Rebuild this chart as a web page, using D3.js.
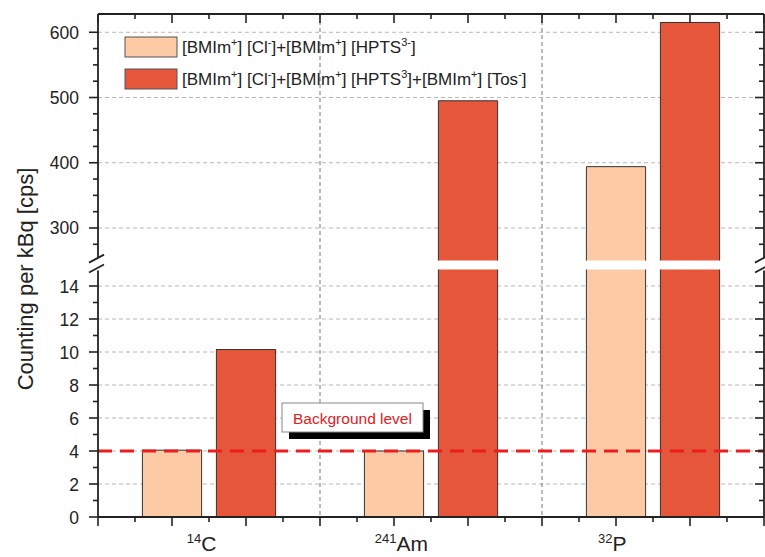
<!DOCTYPE html>
<html>
<head>
<meta charset="utf-8">
<script src="https://cdn.jsdelivr.net/npm/d3@7"></script>
<style>
  body { margin: 0; background: #fff; }
  svg { display: block; font-family: Arial, "Liberation Sans", sans-serif; }
</style>
</head>
<body>
<svg id="chart" width="765" height="557"></svg>
<script>
// isotopes on the x axis (mass number + symbol)
var isotopeMass   = ["14", "241", "32"];
var isotopeSymbol = ["C", "Am", "P"];
// where each category label sits, in x-axis units
var labelPos = [1.4, 4.1, 6.95];

// counting per kBq [cps]
var seriesNames = [
    ["[BMIm", "+", "] [Cl", "-", "]+[BMIm", "+", "] [HPTS", "3-", "]"],
    ["[BMIm", "+", "] [Cl", "-", "]+[BMIm", "+", "] [HPTS", "3", "]+[BMIm", "+", "] [Tos", "-", "]"]
];
var seriesLight = [4.05, 4.0, 394];
var seriesDark  = [10.15, 495, 615];
var colors = ["#fdcaa6", "#e5563a"];

var backgroundLevel = 4;

// broken y axis: lower and upper segment
var lowDomain  = [0, 15];
var highDomain = [250, 628];
var lowMajor  = d3.range(0, 15, 2);
var lowMinor  = d3.range(1, 15, 2);
var highMajor = d3.range(300, 601, 100);
var highMinor = d3.range(275, 601, 25).filter(function(v) { return v % 100 !== 0; });

var L = 98, R = 764, T = 14, B = 517;
var svg = d3.select("#chart");

var x = d3.scaleLinear().domain([0, 9]).range([L, R]);
var yLow  = d3.scaleLinear().domain(lowDomain).range([B, 269.5]);
var yHigh = d3.scaleLinear().domain(highDomain).range([260.6, T]);

// grid
var grid = svg.append("g").attr("stroke", "#b8b8b8").attr("stroke-dasharray", "4,3").attr("stroke-width", 1);
lowMajor.filter(function(v) { return v > 0; }).forEach(function(v) {
    grid.append("line").attr("x1", L).attr("x2", R).attr("y1", yLow(v)).attr("y2", yLow(v));
});
highMajor.forEach(function(v) {
    grid.append("line").attr("x1", L).attr("x2", R).attr("y1", yHigh(v)).attr("y2", yHigh(v));
});
[3, 6].forEach(function(v) {
    grid.append("line").attr("x1", x(v)).attr("x2", x(v)).attr("y1", T).attr("y2", B)
        .attr("stroke", "#777");
});

// bars
var bars = [];
seriesLight.forEach(function(v, i) { bars.push({ x: 3 * i + 1, v: v, c: colors[0] }); });
seriesDark.forEach(function(v, i) { bars.push({ x: 3 * i + 2, v: v, c: colors[1] }); });

var bw = x(0.8) - x(0);
var gBars = svg.append("g").attr("stroke", "#333").attr("stroke-width", 1);
bars.forEach(function(d) {
    var x0 = x(d.x) - bw / 2;
    if (d.v <= lowDomain[1]) {
        gBars.append("rect").attr("x", x0).attr("width", bw)
            .attr("y", yLow(d.v)).attr("height", yLow(0) - yLow(d.v)).attr("fill", d.c);
    } else {
        gBars.append("path").attr("fill", d.c)
            .attr("d", "M" + x0 + "," + yLow(lowDomain[1]) + "V" + yLow(0) + "H" + (x0 + bw) + "V" + yLow(lowDomain[1]));
        gBars.append("path").attr("fill", d.c)
            .attr("d", "M" + x0 + "," + yHigh(highDomain[0]) + "V" + yHigh(d.v) + "H" + (x0 + bw) + "V" + yHigh(highDomain[0]));
    }
});

// background level
svg.append("line").attr("x1", L).attr("x2", R)
    .attr("y1", yLow(backgroundLevel)).attr("y2", yLow(backgroundLevel))
    .attr("stroke", "#ee1c1c").attr("stroke-width", 3).attr("stroke-dasharray", "14,8");

svg.append("rect").attr("x", 289).attr("y", 410).attr("width", 141).attr("height", 29).attr("fill", "#000");
svg.append("rect").attr("x", 282).attr("y", 403).attr("width", 141).attr("height", 29)
    .attr("fill", "#fff").attr("stroke", "#888").attr("stroke-width", 1);
svg.append("text").attr("x", 352.5).attr("y", 423.5).attr("text-anchor", "middle")
    .attr("font-size", 15.5).attr("fill", "#e0201e").text("Background level");

// axes frame
var ax = svg.append("g").attr("stroke", "#222").attr("stroke-width", 1.8).attr("fill", "none");
var gapTop = 260.6, gapBot = 269.5;
ax.append("line").attr("x1", L).attr("x2", R).attr("y1", T).attr("y2", T);
ax.append("line").attr("x1", L).attr("x2", R).attr("y1", B).attr("y2", B);
[L, R].forEach(function(px) {
    ax.append("line").attr("x1", px).attr("x2", px).attr("y1", T).attr("y2", gapTop - 3);
    ax.append("line").attr("x1", px).attr("x2", px).attr("y1", gapBot + 1).attr("y2", B);
    // break marks
    [gapTop - 2, gapBot - 1].forEach(function(yy) {
        ax.append("line").attr("x1", px - 9).attr("x2", px + 6).attr("y1", yy + 4).attr("y2", yy - 4);
    });
});

// ticks
var ticks = svg.append("g").attr("stroke", "#222").attr("stroke-width", 1.6);
function yTick(yy, len) {
    ticks.append("line").attr("x1", L - len).attr("x2", L).attr("y1", yy).attr("y2", yy);
    ticks.append("line").attr("x1", R - len).attr("x2", R).attr("y1", yy).attr("y2", yy);
}
lowMajor.forEach(function(v) { yTick(yLow(v), 9); });
lowMinor.forEach(function(v) { yTick(yLow(v), 5); });
highMajor.forEach(function(v) { yTick(yHigh(v), 9); });
highMinor.forEach(function(v) { yTick(yHigh(v), 5); });

d3.range(0, 9.01, 0.5).forEach(function(v) {
    var len = (v % 1 === 0) ? 9 : 5;
    ticks.append("line").attr("x1", x(v)).attr("x2", x(v)).attr("y1", B).attr("y2", B + len);
    ticks.append("line").attr("x1", x(v)).attr("x2", x(v)).attr("y1", T).attr("y2", T + len);
});

// tick labels
var tl = svg.append("g").attr("font-size", 17.5).attr("fill", "#222").attr("text-anchor", "end");
lowMajor.forEach(function(v) {
    tl.append("text").attr("x", L - 19).attr("y", yLow(v) + 6.5).text(v);
});
highMajor.forEach(function(v) {
    tl.append("text").attr("x", L - 19).attr("y", yHigh(v) + 6.5).text(v);
});

// category labels
isotopeMass.forEach(function(m, i) {
    var t = svg.append("text").attr("x", x(labelPos[i])).attr("y", 551)
        .attr("text-anchor", "middle").attr("fill", "#222");
    t.append("tspan").attr("font-size", 13).attr("dy", -8).text(m);
    t.append("tspan").attr("font-size", 21).attr("dy", 8).text(isotopeSymbol[i]);
});

// y axis title
svg.append("text").attr("transform", "translate(33,279) rotate(-90)")
    .attr("text-anchor", "middle").attr("font-size", 22).attr("fill", "#222")
    .text("Counting per kBq [cps]");

// legend
seriesNames.forEach(function(parts, i) {
    var ly = 37 + i * 32;
    svg.append("rect").attr("x", 125).attr("y", ly).attr("width", 52).attr("height", 20)
        .attr("fill", colors[i]).attr("stroke", "#555").attr("stroke-width", 1);
    var t = svg.append("text").attr("x", 182).attr("y", ly + 16).attr("font-size", 17).attr("fill", "#222");
    parts.forEach(function(p, j) {
        if (j % 2 === 1) {
            t.append("tspan").attr("font-size", 11).attr("dy", -7).text(p);
        } else {
            t.append("tspan").attr("dy", j === 0 ? 0 : 7).text(p);
        }
    });
});
</script>
</body>
</html>
